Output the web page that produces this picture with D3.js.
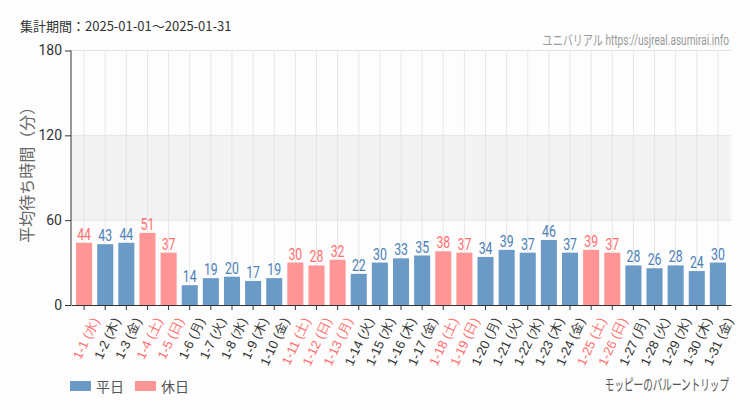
<!DOCTYPE html>
<html>
<head>
<meta charset="utf-8">
<script src="https://cdn.jsdelivr.net/npm/d3@7"></script>
<style>
  body { margin: 0; background: #fcfdfc; }
  svg { display: block; font-family: "Noto Sans CJK JP", "Noto Sans", sans-serif; }
  .narrow { font-family: Roboto, "Noto Sans CJK JP", sans-serif; }
</style>
</head>
<body>
<div id="chart"></div>
<script>
// data
const days = ["1-1", "1-2", "1-3", "1-4", "1-5", "1-6", "1-7", "1-8", "1-9", "1-10", "1-11", "1-12", "1-13", "1-14", "1-15", "1-16",
    "1-17", "1-18", "1-19", "1-20", "1-21", "1-22", "1-23", "1-24", "1-25", "1-26", "1-27", "1-28", "1-29", "1-30", "1-31"];
const weekdays = ["水", "木", "金", "土", "日", "月", "火", "水", "木", "金", "土", "日", "月", "火", "水", "木",
    "金", "土", "日", "月", "火", "水", "木", "金", "土", "日", "月", "火", "水", "木", "金"];
const waitTimes = [44, 43, 44, 51, 37, 14, 19, 20, 17, 19, 30, 28, 32, 22, 30, 33, 35, 38, 37, 34, 39, 37, 46, 37, 39, 37, 28, 26, 28, 24, 30];
const holidays = ["1-1", "1-4", "1-5", "1-11", "1-12", "1-13", "1-18", "1-19", "1-25", "1-26"];
const yTicks = [0, 60, 120, 180];

const W = 750, H = 410;
const margin = {top: 50.5, right: 19, bottom: 105, left: 71};
const width = W - margin.left - margin.right,
    height = H - margin.top - margin.bottom;

const blue = "#6b9ac6", pink = "#ff9595";
const blueText = "#4a80b8", pinkText = "#ff6f6f";

// squeeze text horizontally to mimic the condensed face
const narrow = 0.72;

const svg = d3.select("#chart").append("svg")
    .attr("width", W).attr("height", H);

const g = svg.append("g")
    .attr("transform", "translate(" + margin.left + "," + margin.top + ")");

const data = days.map((d, i) => ({name: d, wd: weekdays[i], value: waitTimes[i], holiday: holidays.includes(d)}));

const x = d3.scaleBand().domain(days).range([0, width]).padding(0.24);
const y = d3.scaleLinear().domain([0, 180]).range([height, 0]);

// shaded band 60-120
g.append("rect")
    .attr("x", 0).attr("width", width)
    .attr("y", y(120)).attr("height", y(60) - y(120))
    .attr("fill", "#f3f3f3");

// grid
g.selectAll(".hgrid").data(yTicks.filter(t => t > 0)).enter().append("line")
    .attr("x1", 0).attr("x2", width)
    .attr("y1", d => y(d)).attr("y2", d => y(d))
    .attr("stroke", "#e3e3e3");
g.selectAll(".vgrid").data(days).enter().append("line")
    .attr("x1", d => x(d) + x.bandwidth() / 2).attr("x2", d => x(d) + x.bandwidth() / 2)
    .attr("y1", 0).attr("y2", height)
    .attr("stroke", "#e6e6e6");

// bars
g.selectAll(".bar").data(data).enter().append("rect")
    .attr("x", d => x(d.name))
    .attr("y", d => y(d.value))
    .attr("width", x.bandwidth())
    .attr("height", d => height - y(d.value))
    .attr("fill", d => d.holiday ? pink : blue);

// value labels
g.selectAll(".val").data(data).enter().append("text")
    .classed("narrow", true)
    .attr("transform", d => "translate(" + (x(d.name) + x.bandwidth() / 2) + "," + (y(d.value) - 3) + ") scale(" + narrow + ",1)")
    .attr("text-anchor", "middle")
    .attr("font-size", 17)
    .attr("fill", d => d.holiday ? pinkText : blueText)
    .text(d => d.value);

// y axis
const yAxis = g.append("g")
    .call(d3.axisLeft(y).tickValues(yTicks).tickSize(6).tickPadding(3));
yAxis.select(".domain").attr("stroke", "#333").attr("d", "M0," + height + "V0");
yAxis.selectAll("line").attr("stroke", "#333");
yAxis.selectAll("text").attr("font-size", 14).attr("fill", "#333")
    .attr("font-family", "Roboto, sans-serif");

// x axis
const xAxis = g.append("g")
    .attr("transform", "translate(0," + height + ")")
    .call(d3.axisBottom(x).tickSize(5).tickSizeOuter(0));
xAxis.select(".domain").attr("stroke", "#333");
xAxis.selectAll("line").attr("stroke", "#333");
xAxis.selectAll("text")
    .attr("font-size", 13)
    .attr("fill", (d, i) => data[i].holiday ? pinkText : "#333")
    .attr("text-anchor", "end")
    .attr("dy", "0.35em")
    .attr("transform", "translate(4,10) rotate(-65)")
    .text((d, i) => d + " (" + weekdays[i] + ")");

// y title
svg.append("text")
    .attr("transform", "translate(33," + (margin.top + height / 2 - 7) + ") rotate(-90)")
    .attr("text-anchor", "middle")
    .attr("font-size", 16)
    .attr("fill", "#666")
    .text("平均待ち時間（分）");

// header texts
svg.append("text")
    .attr("x", 20).attr("y", 31)
    .attr("font-size", 13)
    .attr("fill", "#333")
    .text("集計期間：2025-01-01～2025-01-31");
svg.append("text")
    .classed("narrow", true)
    .attr("transform", "translate(" + (W - 21) + ",45) scale(" + narrow + ",1)")
    .attr("text-anchor", "end")
    .attr("font-size", 14)
    .attr("fill", "#999")
    .text("ユニバリアル  https://usjreal.asumirai.info");

// legend
const legend = [{label: "平日", color: blue}, {label: "休日", color: pink}];
const lg = svg.append("g").attr("transform", "translate(70,381)");
lg.selectAll("rect").data(legend).enter().append("rect")
    .attr("x", (d, i) => i * 65).attr("y", 0)
    .attr("width", 21).attr("height", 10)
    .attr("fill", d => d.color);
lg.selectAll("text").data(legend).enter().append("text")
    .attr("x", (d, i) => i * 65 + 26).attr("y", 10.5)
    .attr("font-size", 14)
    .attr("fill", "#555")
    .text(d => d.label);

svg.append("text")
    .classed("narrow", true)
    .attr("transform", "translate(" + (W - 21) + ",390) scale(0.64,1)")
    .attr("text-anchor", "end")
    .attr("font-size", 15)
    .attr("fill", "#555")
    .text("モッピーのバルーントリップ");
</script>
</body>
</html>
